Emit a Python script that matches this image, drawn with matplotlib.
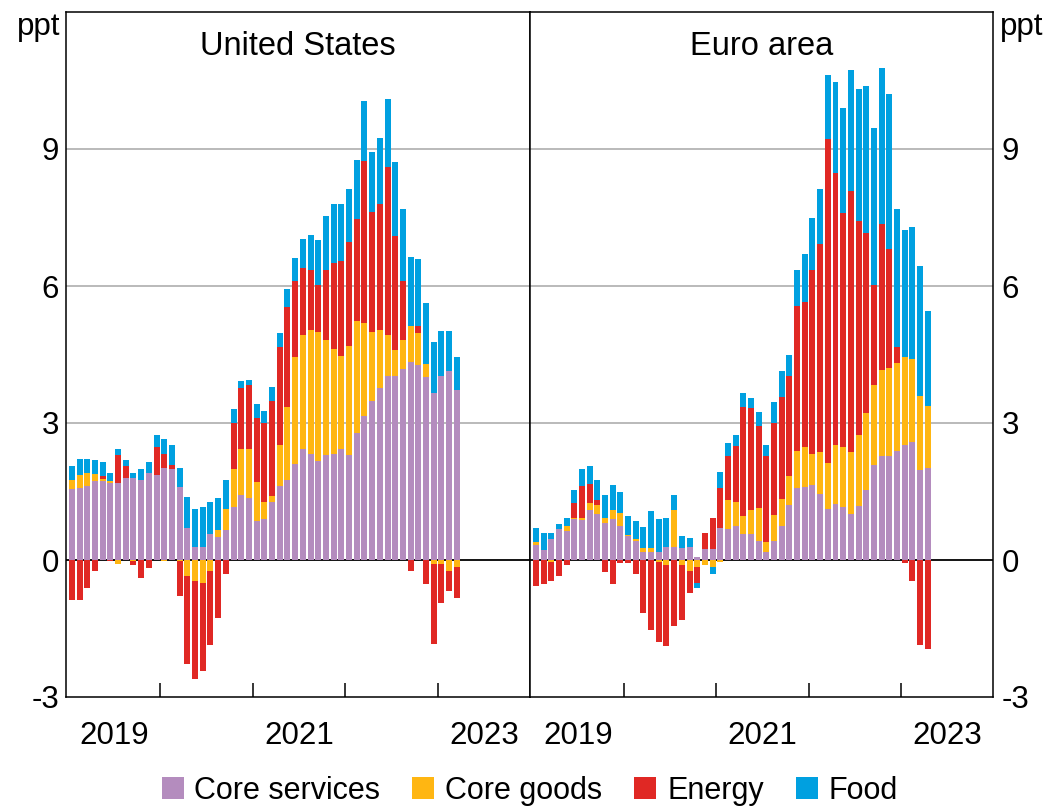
import numpy as np
import matplotlib
matplotlib.use("Agg")
import matplotlib.pyplot as plt
from matplotlib.patches import Patch

plt.rcParams['font.family'] = ['Liberation Sans', 'DejaVu Sans']

# ---------------- data (percentage-point contributions, monthly) ----------------
series_names = ["Core services", "Core goods", "Energy", "Food"]
colors = ["#B48CBE", "#FFB612", "#E02824", "#00A0E0"]

start_year = 2019
year_labels = ["2019", "2021", "2023"]

# United States: Jan 2019 - Mar 2023
us_services = [1.56, 1.57, 1.61, 1.73, 1.73, 1.69, 1.68, 1.79, 1.79, 1.75, 1.91, 1.86,
               2.02, 1.99, 1.60, 0.70, 0.28, 0.28, 0.56, 0.51, 0.66, 1.16, 1.42, 1.35,
               0.85, 0.89, 1.26, 1.61, 1.75, 2.10, 2.43, 2.32, 2.17, 2.29, 2.32, 2.43,
               2.29, 2.78, 3.16, 3.49, 3.76, 4.03, 4.04, 4.18, 4.34, 4.26, 4.00, 3.66,
               4.04, 4.14, 3.73]
us_goods = [0.20, 0.30, 0.30, 0.15, 0.04, 0.03, -0.09, 0.00, -0.03, 0.00, 0.00, 0.00,
            -0.03, 0.00, -0.03, -0.35, -0.46, -0.50, -0.24, 0.15, 0.46, 0.84, 1.01, 1.08,
            0.86, 0.37, 0.15, 0.90, 1.59, 2.34, 2.49, 2.72, 2.82, 2.52, 2.30, 2.04,
            2.40, 2.45, 2.03, 1.51, 1.28, 0.90, 0.56, 0.64, 0.79, 0.71, 0.30, -0.08,
            -0.08, -0.23, -0.16]
us_energy = [-0.88, -0.88, -0.61, -0.24, 0.07, -0.02, 0.61, 0.27, -0.07, -0.39, -0.17, 0.62,
             0.31, 0.10, -0.76, -1.92, -2.14, -1.93, -1.62, -1.26, -0.31, 1.00, 1.33, 1.41,
             1.41, 1.74, 2.08, 2.15, 2.19, 1.66, 1.48, 1.32, 1.03, 1.55, 1.89, 2.07,
             2.28, 2.23, 3.55, 2.62, 2.76, 3.67, 2.50, 1.28, -0.23, 0.16, -0.53, -1.77,
             -0.86, -0.44, -0.68]
us_food = [0.30, 0.34, 0.30, 0.30, 0.31, 0.19, 0.15, 0.12, 0.12, 0.24, 0.23, 0.26,
           0.33, 0.42, 0.42, 0.67, 0.84, 0.88, 0.71, 0.69, 0.64, 0.31, 0.15, 0.11,
           0.30, 0.26, 0.30, 0.30, 0.41, 0.52, 0.63, 0.75, 0.98, 1.17, 1.28, 1.25,
           1.16, 1.31, 1.31, 1.32, 1.44, 1.50, 1.62, 1.58, 1.51, 1.47, 1.32, 1.12,
           0.97, 0.87, 0.71]

# Euro area: Jan 2019 - Apr 2023
ea_services = [0.33, 0.22, 0.45, 0.67, 0.64, 0.89, 0.87, 1.09, 1.00, 0.82, 0.89, 0.75,
               0.53, 0.42, 0.18, 0.18, 0.18, 0.29, 0.29, 0.26, 0.29, 0.07, 0.25, 0.25,
               0.71, 0.67, 0.75, 0.56, 0.56, 0.42, 0.18, 0.42, 0.74, 1.20, 1.57, 1.60,
               1.64, 1.45, 1.11, 1.23, 1.15, 1.00, 1.19, 1.53, 2.09, 2.28, 2.28, 2.39,
               2.51, 2.58, 1.98, 2.02]
ea_goods = [0.07, 0.00, -0.04, 0.00, 0.11, 0.04, 0.04, 0.15, 0.21, 0.11, 0.20, 0.27,
            0.02, 0.03, 0.08, 0.08, -0.04, -0.12, 0.80, -0.12, -0.24, -0.15, -0.12, -0.15,
            -0.04, 0.65, 0.52, 0.40, 0.53, 0.71, 0.22, 0.56, 0.60, 0.63, 0.82, 0.87,
            0.68, 0.91, 1.02, 1.28, 1.32, 1.36, 1.54, 1.69, 1.75, 1.89, 1.92, 1.92,
            1.93, 1.82, 1.62, 1.36]
ea_energy = [-0.57, -0.53, -0.42, -0.34, -0.12, 0.31, 0.71, 0.42, 0.10, -0.26, -0.53, -0.07,
             -0.07, -0.30, -1.17, -1.54, -1.76, -1.77, -1.45, -1.20, -0.48, -0.35, 0.35, 0.66,
             0.86, 0.95, 1.22, 2.40, 2.23, 1.81, 1.87, 2.03, 2.23, 2.20, 3.18, 3.17,
             4.04, 4.56, 7.09, 5.96, 5.13, 5.73, 4.69, 3.93, 2.18, 3.18, 2.61, 0.35,
             -0.06, -0.47, -1.86, -1.94]
ea_food = [0.31, 0.37, 0.14, 0.11, 0.18, 0.30, 0.38, 0.40, 0.44, 0.49, 0.55, 0.48,
           0.41, 0.41, 0.47, 0.81, 0.71, 0.64, 0.34, 0.26, 0.19, -0.11, 0.00, -0.15,
           0.35, 0.29, 0.25, 0.29, 0.23, 0.29, 0.25, 0.45, 0.56, 0.47, 0.79, 1.06,
           1.13, 1.21, 1.40, 2.00, 2.30, 2.64, 2.90, 3.24, 3.43, 3.42, 3.40, 3.02,
           2.78, 2.90, 2.83, 2.07]

FS = 22.5

# ---------------- figure ----------------
W, H = 1053, 807
fig = plt.figure(figsize=(W / 100, H / 100), dpi=100)
ax1 = fig.add_axes([66 / W, 1 - 697 / H, 464 / W, 685 / H])
ax2 = fig.add_axes([530 / W, 1 - 697 / H, 463 / W, 685 / H])


def draw_panel(ax, comps, title):
    n = len(comps[0])
    x = start_year + (np.arange(n) + 0.5) / 12.0
    pos_bottom = np.zeros(n)
    neg_bottom = np.zeros(n)
    for vals, col in zip(comps, colors):
        v = np.asarray(vals, dtype=float)
        pos = np.where(v > 0, v, 0.0)
        neg = np.where(v < 0, v, 0.0)
        ax.bar(x, pos, bottom=pos_bottom, width=0.78 / 12, color=col,
               linewidth=0, zorder=3)
        ax.bar(x, neg, bottom=neg_bottom, width=0.78 / 12, color=col,
               linewidth=0, zorder=3)
        pos_bottom += pos
        neg_bottom += neg

    ax.set_xlim(2018.978, 2024.0)
    ax.set_ylim(-3, 12)
    for g in (3, 6, 9):
        ax.axhline(g, color="#b4b4b4", linewidth=1.3, zorder=1)
    ax.axhline(0, color="black", linewidth=1.3, zorder=2)

    ax.set_xticks([2020, 2021, 2022, 2023])
    ax.set_xticklabels([])
    ax.tick_params(axis="x", which="major", direction="in", length=10,
                   width=1.1, color="black", top=False)
    ax.set_xticks([2019.5, 2021.5, 2023.5], minor=True)
    ax.set_xticklabels(year_labels, minor=True, fontsize=FS)
    ax.tick_params(axis="x", which="minor", length=0, pad=17)

    ax.set_yticks([-3, 0, 3, 6, 9])
    ax.set_yticklabels(["-3", "0", "3", "6", "9"], fontsize=FS)
    ax.tick_params(axis="y", length=0, pad=5)

    for s in ax.spines.values():
        s.set_color("black")
        s.set_linewidth(1.1)
        s.set_zorder(5)

    ax.text(0.5, 0.972, title, transform=ax.transAxes, ha="center", va="top",
            fontsize=FS + 1)


draw_panel(ax1, [us_services, us_goods, us_energy, us_food], "United States")
draw_panel(ax2, [ea_services, ea_goods, ea_energy, ea_food], "Euro area")

ax1.yaxis.set_ticks_position("left")
ax2.yaxis.tick_right()
ax2.yaxis.set_label_position("right")
ax2.tick_params(axis="y", length=0, pad=6)

ax1.text(-0.012, 1.0, "ppt", transform=ax1.transAxes, ha="right", va="top",
         fontsize=FS)
ax2.text(1.014, 1.0, "ppt", transform=ax2.transAxes, ha="left", va="top",
         fontsize=FS)

handles = [Patch(facecolor=c, edgecolor="none") for c in colors]
fig.legend(handles, series_names, loc="center", bbox_to_anchor=(0.503, 1 - 791 / H),
           ncol=4, frameon=False, fontsize=FS - 0.5, handlelength=0.72,
           handleheight=0.72, handletextpad=0.35, columnspacing=1.05,
           borderaxespad=0)

fig.savefig("out.png", dpi=100, facecolor="white")
